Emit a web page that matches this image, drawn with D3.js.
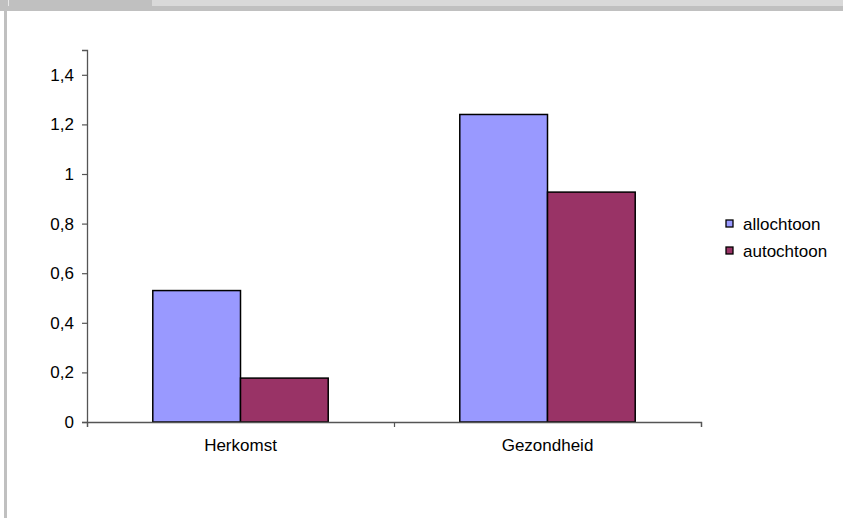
<!DOCTYPE html>
<html>
<head>
<meta charset="utf-8">
<script src="https://cdn.jsdelivr.net/npm/d3@7/dist/d3.min.js"></script>
<style>
  html, body { margin: 0; padding: 0; background: #ffffff; }
  svg { display: block; }
  text { font-family: "Liberation Sans", Arial, sans-serif; fill: #000; }
</style>
</head>
<body>
<svg id="chart" width="843" height="518"></svg>
<script>
// Chart data
const categories = ["Herkomst", "Gezondheid"];
const seriesNames = ["allochtoon", "autochtoon"];
const allochtoon = [0.53, 1.24];
const autochtoon = [0.177, 0.927];
const yTicks = [0, 0.2, 0.4, 0.6, 0.8, 1, 1.2, 1.4];
const yTickLabels = ["0", "0,2", "0,4", "0,6", "0,8", "1", "1,2", "1,4"];
const colors = ["#9999ff", "#993366"];

const svg = d3.select("#chart");

// Window frame: grey strip along top and left edge
svg.append("rect").attr("x", 0).attr("y", 0).attr("width", 843).attr("height", 11).attr("fill", "#c0c0c0");
svg.append("rect").attr("x", 152).attr("y", 0).attr("width", 691).attr("height", 6).attr("fill", "#d9d9d9");
svg.append("rect").attr("x", 4).attr("y", 0).attr("width", 3).attr("height", 518).attr("fill", "#c0c0c0");
svg.append("rect").attr("x", 8).attr("y", 0).attr("width", 1).attr("height", 6).attr("fill", "#e8e8e8");

const plot = { left: 87, right: 701, top: 50, bottom: 422 };

const y = d3.scaleLinear().domain([0, 1.5]).range([plot.bottom, plot.top]);
const x = d3.scaleBand().domain(categories).range([plot.left, plot.right]).paddingInner(0).paddingOuter(0);
const xs = d3.scaleBand().domain(seriesNames).range([0, x.bandwidth()]).paddingInner(0).paddingOuter(0.75);
const xBound = d3.scaleLinear().domain([0, categories.length]).range([plot.left, plot.right]);

const values = { allochtoon, autochtoon };

// Bars
seriesNames.forEach((s, si) => {
  svg.append("g")
    .selectAll("rect")
    .data(categories.map((c, i) => ({ c, v: values[s][i] })))
    .join("rect")
    .attr("x", d => x(d.c) + xs(s))
    .attr("y", d => y(d.v))
    .attr("width", xs.bandwidth())
    .attr("height", d => y(0) - y(d.v))
    .attr("fill", colors[si])
    .attr("stroke", "#000")
    .attr("stroke-width", 1.5);
});

// Y axis
const yAxis = svg.append("g")
  .attr("transform", `translate(${plot.left},0)`)
  .call(d3.axisLeft(y).tickValues(yTicks).tickSize(5).tickPadding(8)
    .tickFormat((d, i) => yTickLabels[i]));
yAxis.select(".domain").attr("stroke", "#555").attr("stroke-width", 1.3);
yAxis.selectAll(".tick line").attr("stroke", "#555").attr("stroke-width", 1.2);
yAxis.selectAll(".tick text").attr("font-size", 17).attr("fill", "#000");

// X axis: category boundary ticks
const xAxis = svg.append("g")
  .attr("transform", `translate(0,${plot.bottom})`)
  .call(d3.axisBottom(xBound).tickValues(d3.range(categories.length + 1)).tickSize(5).tickFormat(""));
xAxis.select(".domain").attr("stroke", "#555").attr("stroke-width", 1.3);
xAxis.selectAll(".tick line").attr("stroke", "#555").attr("stroke-width", 1.2);

// X axis: category labels
const xLabels = svg.append("g")
  .attr("transform", `translate(0,${plot.bottom})`)
  .call(d3.axisBottom(x).tickSize(0).tickPadding(17));
xLabels.select(".domain").remove();
xLabels.selectAll(".tick text").attr("font-size", 17).attr("fill", "#000");

// Legend
const legend = svg.append("g").attr("transform", "translate(726,220)");
seriesNames.forEach((s, i) => {
  const g = legend.append("g").attr("transform", `translate(0,${i * 27})`);
  g.append("rect").attr("x", 0).attr("y", 0).attr("width", 7).attr("height", 7)
    .attr("fill", colors[i]).attr("stroke", "#000").attr("stroke-width", 1.3);
  g.append("text").attr("x", 17).attr("y", 4).attr("dy", "0.35em")
    .attr("font-size", 17).text(s);
});
</script>
</body>
</html>
